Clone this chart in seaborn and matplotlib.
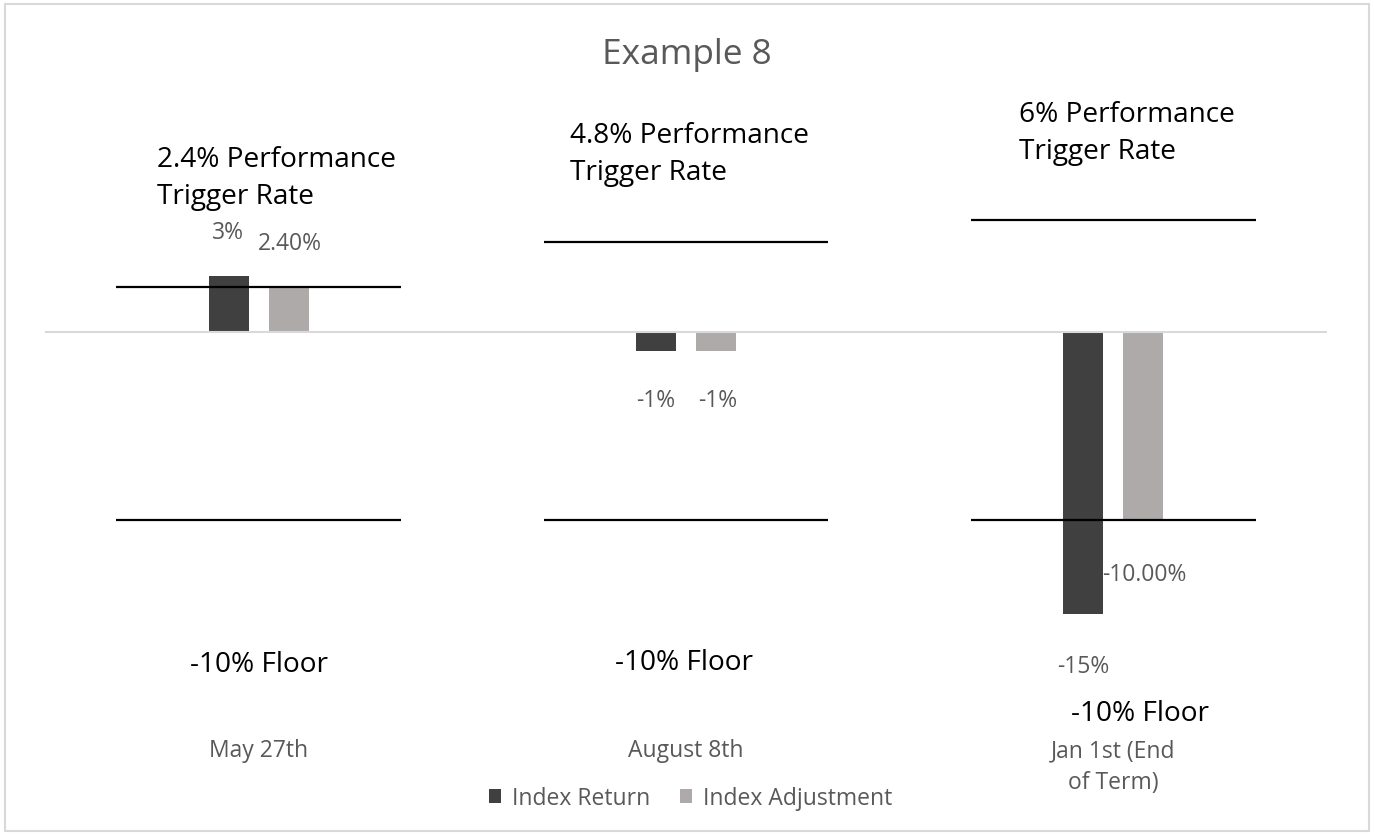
# Recreating the "Example 8" index return / adjustment chart

import matplotlib
matplotlib.use("Agg")
import matplotlib.pyplot as plt
from matplotlib.patches import Rectangle
import pandas as pd
import seaborn as sns

# Data
categories = ["May 27th", "August 8th", "Jan 1st (End\nof Term)"]
index_return = [3, -1, -15]
index_adjustment = [2.4, -1, -10]
return_labels = ["3%", "-1%", "-15%"]
adjustment_labels = ["2.40%", "-1%", "-10.00%"]
trigger_rates = [2.4, 4.8, 6]
floors = [-10, -10, -10]
trigger_texts = ["2.4% Performance\nTrigger Rate", "4.8% Performance\nTrigger Rate", "6% Performance\nTrigger Rate"]
floor_texts = ["-10% Floor", "-10% Floor", "-10% Floor"]
series_names = ["Index Return", "Index Adjustment"]

# Long form table for seaborn
df = pd.DataFrame({
    "date": categories * 2,
    "value": index_return + index_adjustment,
    "series": [series_names[0]] * 3 + [series_names[1]] * 3,
})

sns.set_style("white")
plt.rcParams["font.family"] = ["Open Sans", "DejaVu Sans"]

dark = "#404040"
light = "#AEAAAA"
grey_text = "#595959"
small = 16.5
big = 20.2

fig = plt.figure(figsize=(13.74, 8.37), dpi=100)
ax = fig.add_axes([45 / 1374, 106 / 837, 1282 / 1374, 646 / 837])

sns.barplot(data=df, x="date", y="value", hue="series", order=categories,
            hue_order=series_names, palette=[dark, light], saturation=1,
            width=0.28, gap=1 / 3, linewidth=0, ax=ax)

ax.set_xlim(-0.5, 2.5)
ax.set_ylim(-21.2, 13.25)

# zero line, trigger and floor lines
ax.axhline(0, color="#D9D9D9", lw=1.5, zorder=1)
for i in range(len(categories)):
    ax.hlines(trigger_rates[i], i - 1 / 3, i + 1 / 3, color="black", lw=1.6, zorder=5)
    ax.hlines(floors[i], i - 1 / 3, i + 1 / 3, color="black", lw=1.6, zorder=5)

# data labels
ret_pos = [(-0.072, 5.37), (0.930, -3.62), (1.929, -17.8)]
adj_pos = [(0.073, 4.79), (1.073, -3.62), (2.072, -12.9)]
for lab, (x, y) in zip(return_labels, ret_pos):
    ax.text(x, y, lab, ha="center", va="center", fontsize=small, color=grey_text)
for lab, (x, y) in zip(adjustment_labels, adj_pos):
    ax.text(x, y, lab, ha="center", va="center", fontsize=small, color=grey_text)

# annotation texts
trig_pos = [(-0.238, 8.26), (0.729, 9.55), (1.779, 10.66)]
floor_pos = [(0.0, -18.05), (0.995, -17.95), (2.063, -20.65)]
for t, (x, y) in zip(trigger_texts, trig_pos):
    ax.text(x, y, t, ha="left", va="center", fontsize=big, color="black", linespacing=1.44)
for t, (x, y) in zip(floor_texts, floor_pos):
    ax.text(x, y, t, ha="center", va="baseline", fontsize=big, color="black")

# axes styling
ax.set_xlabel("")
ax.set_ylabel("")
ax.set_yticks([])
ax.tick_params(axis="x", length=0, pad=6, labelsize=small, labelcolor=grey_text)
for lbl in ax.get_xticklabels():
    lbl.set_linespacing(1.45)
for s in ax.spines.values():
    s.set_visible(False)

# legend
handles, labels = ax.get_legend_handles_labels()
ax.get_legend().remove()
fig.legend(handles, labels, loc="center", bbox_to_anchor=(691 / 1374, 1 - 799 / 837), ncol=2,
           frameon=False, fontsize=small, labelcolor=grey_text, handlelength=0.52,
           handleheight=0.52, handletextpad=0.48, columnspacing=1.3)

fig.suptitle("Example 8", x=0.5, y=1 - 55 / 837, va="center", fontsize=25.4, color=grey_text)

# chart frame
fig.patches.append(Rectangle((5 / 1374, 5 / 837), 1364 / 1374, 827 / 837, transform=fig.transFigure,
                             fill=False, edgecolor="#D9D9D9", lw=1.5))

fig.savefig("out.png", dpi=100)
